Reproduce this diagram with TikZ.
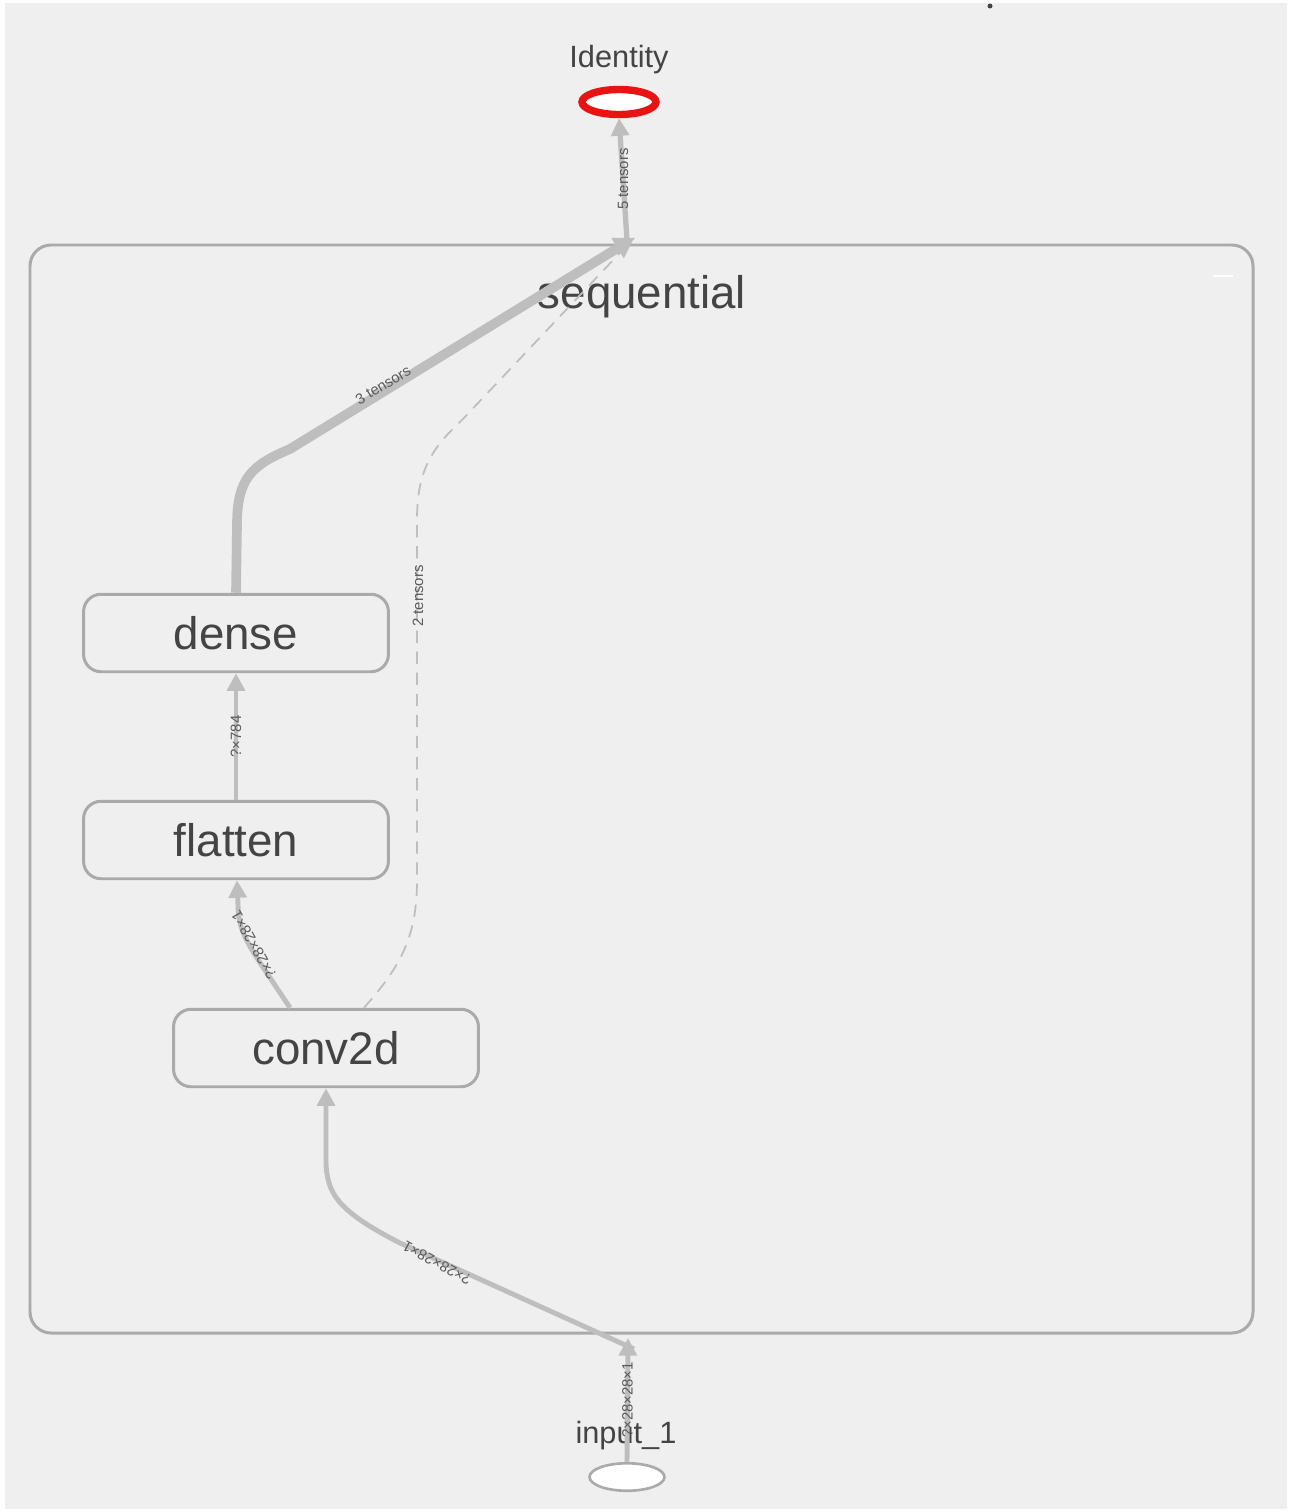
\documentclass[tikz,border=0pt]{standalone}
\usepackage{fontspec}
\setmainfont{Liberation Sans}
\usepackage{tikz}
\usetikzlibrary{shapes.geometric, arrows.meta, calc}
\definecolor{panelbg}{RGB}{239, 239, 239}
\definecolor{boxline}{RGB}{170, 170, 170}
\definecolor{edgegray}{RGB}{190, 190, 190}
\definecolor{textgray}{RGB}{68, 68, 68}
\definecolor{labelgray}{RGB}{90, 90, 90}
\definecolor{identred}{RGB}{232, 20, 20}

\begin{document}
\begin{tikzpicture}[
  x=0.02cm, y=-0.02cm,
  layerbox/.style={draw=boxline, line width=1.7pt, rounded corners=10pt, fill=panelbg, minimum width=6.1cm, minimum height=1.55cm, text=textgray, font=\fontsize{26}{30}\selectfont},
  opnode/.style={ellipse, fill=white, minimum width=1.5cm, minimum height=0.55cm, inner sep=0pt},
  oplabel/.style={text=textgray, font=\fontsize{17.5}{20}\selectfont, inner sep=0pt},
  edge/.style={draw=edgegray, line width=2.8pt, -{Triangle[length=10pt, width=10pt]}},
  elabel/.style={text=labelgray, font=\fontsize{8.5}{10}\selectfont, inner sep=0pt}
]
\useasboundingbox (0,0) rectangle (1291,1511);
\fill[white] (0,0) rectangle (1291,1511);
\fill[panelbg] (5,3) rectangle (1287,1509);
\fill[textgray] (990,6) circle (2.5);
\draw[boxline, line width=1.7pt, rounded corners=12pt] (30,245) rectangle (1253,1333);
\draw[white, line width=1.7pt] (1213,276) -- (1233,276);
\node[text=textgray, font=\fontsize{26}{30}\selectfont] (seqlabel) at (642,297) {sequential};
\node[layerbox] (dense) at (236,633) {dense};
\node[layerbox] (flatten) at (236,840) {flatten};
\node[layerbox] (conv) at (326,1048) {conv2d};
\node[opnode, draw=identred, line width=4.2pt, minimum width=1.48cm, minimum height=0.5cm] (identity) at (619,102) {};
\node[oplabel] (identitylabel) at (619,60) {Identity};
\node[opnode, draw=boxline, line width=1.5pt] (input) at (627,1477) {};
\node[oplabel] (inputlabel) at (626,1436) {input\_1};
\coordinate (seqin) at (628,1338);
\coordinate (seqout) at (634,238);
\coordinate (seqtop) at (627,240);
\draw[edge] (input.north) -- node[elabel, rotate=90] {?×28×28×1} (seqin);
\draw[edge] (634,1349) -- (400,1243) .. controls (340,1212) and (326,1195) .. (326,1160) -- (conv.south);
\node[elabel, rotate=151] at (437,1263) {?×28×28×1};
\draw[edge] ($(conv.north)+(-36,0)$) .. controls (252,950) and (238,935) .. (238,905) -- ($(flatten.south)+(1,0)$);
\node[elabel, rotate=120] at (254,945) {?×28×28×1};
\draw[edge, line width=2.4pt] (flatten.north) -- node[elabel, rotate=90] {?×784} (dense.south);
\draw[edgegray, line width=1pt, dash pattern=on 7pt off 5pt] ($(conv.north)+(38,0)$) .. controls (402,965) and (417,935) .. (417,880) -- (417,520) .. controls (417,470) and (432,448) .. (462,420) -- (seqout);
\node[elabel, rotate=90] at (418,596) {2 tensors};
\draw[edge, line width=5.5pt, -{Triangle[length=11pt, width=13pt]}] (dense.north) -- (237,525) .. controls (237,478) and (252,465) .. (290,449) -- (seqout);
\node[elabel, rotate=31] at (383,385) {3 tensors};
\draw[edge, line width=3pt] (seqtop) -- node[elabel, rotate=90] {5 tensors} (identity.south);
\end{tikzpicture}
\end{document}
